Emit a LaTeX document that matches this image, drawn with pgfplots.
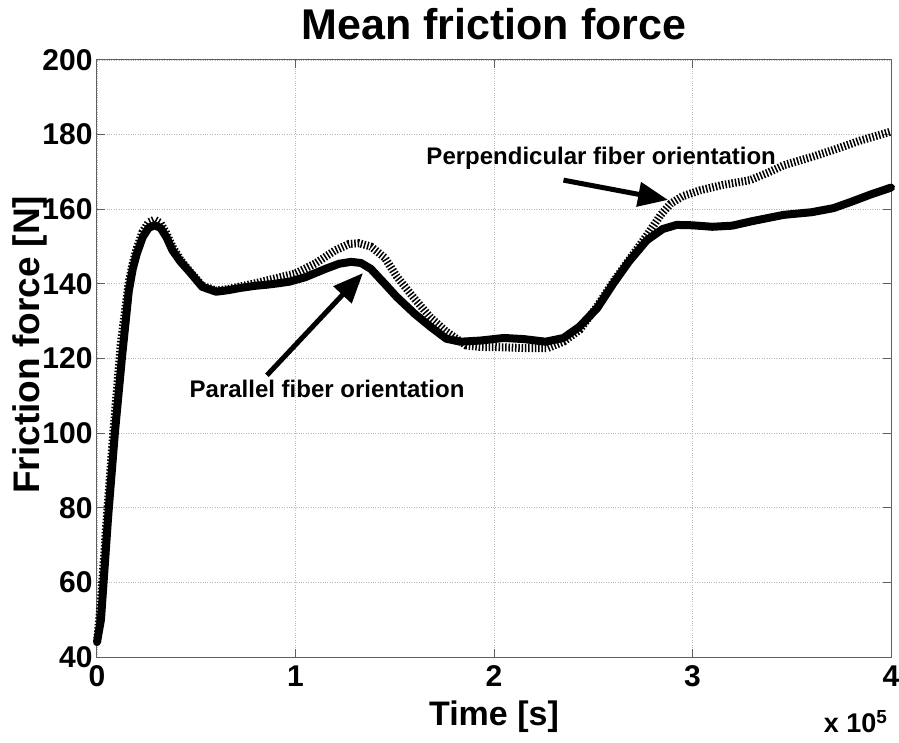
\documentclass[border=0pt]{standalone}
\usepackage{fontspec}
\setmainfont{Liberation Sans}
\usepackage{pgfplots}
\pgfplotsset{compat=1.18}
\usetikzlibrary{arrows.meta}
\pgfplotstableread{
x y
0 44
0.02 50
0.056 77.5
0.09 100
0.126 120.4
0.16 138
0.18 144
0.2 148
0.23 152.5
0.26 155
0.29 155.7
0.32 155
0.35 152.5
0.38 149
0.42 146
0.47 143
0.53 139.2
0.6 137.9
0.66 138.3
0.72 138.9
0.8 139.5
0.86 139.8
0.92 140.2
0.97 140.6
1.05 141.8
1.15 144
1.22 145.4
1.28 145.9
1.33 145.6
1.38 144
1.45 140
1.51 136.5
1.6 132
1.68 128.5
1.76 125.3
1.83 124.5
1.93 124.8
2.05 125.5
2.15 125.2
2.26 124.5
2.35 125.5
2.43 128.5
2.52 133.5
2.6 140
2.68 146
2.77 151.7
2.85 154.7
2.92 155.8
3.0 155.7
3.1 155.3
3.2 155.6
3.3 156.8
3.46 158.5
3.6 159.2
3.71 160.3
3.8 162
3.9 164
4.0 165.8
}\parallel
\pgfplotstableread{
x y
0 44
0.02 55
0.05 78
0.085 102
0.12 124
0.16 140.5
0.18 145.5
0.2 149.5
0.23 154
0.26 156.5
0.29 157.2
0.32 156.3
0.35 153.5
0.38 150
0.42 146.5
0.47 143.2
0.53 139.5
0.6 138.2
0.66 138.6
0.72 139.3
0.8 140.2
0.9 141.5
1.0 142.8
1.1 145.5
1.2 149
1.27 150.7
1.32 150.9
1.38 150
1.45 147
1.51 142
1.6 136
1.68 131
1.76 127.2
1.86 123.5
1.93 123.1
2.05 123
2.15 122.8
2.27 122.8
2.35 124.5
2.43 127.6
2.52 134
2.6 140.5
2.68 146.4
2.77 153
2.84 158.5
2.89 161.5
2.95 163.5
3.04 165.1
3.15 166.5
3.29 167.8
3.38 169.8
3.46 171.8
3.6 174
3.71 175.9
3.85 178.5
4.0 180.8
}\perpendicular
\begin{document}
\begin{tikzpicture}
\path[use as bounding box] (-97pt,-85pt) rectangle (802pt,657pt);
\begin{axis}[
  at={(0pt,0pt)}, anchor=south west,
  scale only axis, width=794pt, height=597pt,
  xmin=0, xmax=4, ymin=40, ymax=200,
  xtick={0,1,2,3,4}, ytick={40,60,...,200},
  grid=major,
  major grid style={gray!55, dotted, line width=0.9pt},
  axis line style={gray!75!black, line width=1pt},
  tick style={gray!75!black, line width=1pt},
  major tick length=8pt,
  tick align=inside,
  /pgf/number format/assume math mode=true,
  ticklabel style={font=\bfseries\fontsize{30}{30}\selectfont},
  xticklabel style={yshift=-5pt},
  yticklabel style={xshift=-1pt},
  title={Mean friction force},
  title style={font=\bfseries\fontsize{43}{43}\selectfont, at={(axis description cs:0.5,1.025)}, anchor=base},
  xlabel={Time [s]},
  xlabel style={font=\bfseries\fontsize{34}{34}\selectfont, at={(axis description cs:0.5,-0.114)}, anchor=base},
  ylabel={Friction force [N]},
  ylabel style={font=\bfseries\fontsize{37}{37}\selectfont, at={(axis description cs:-0.072,0.523)}, anchor=base},
  clip=false,
]
\addplot[black, line width=8pt, dash pattern=on 1.5pt off 1.8pt] table[x=x,y=y]{\perpendicular};
\addplot[black, line width=8pt, line join=round, line cap=round] table[x=x,y=y]{\parallel};
\draw[black, line width=5pt, -{Triangle[length=30pt,width=24pt]}] (axis cs:0.856,115.5) -- (axis cs:1.34,142.9);
\draw[black, line width=5pt, -{Triangle[length=30pt,width=24pt]}] (axis cs:2.35,167.8) -- (axis cs:2.877,162.5);
\node[font=\bfseries\fontsize{24}{24}\selectfont] at (axis cs:1.159,111.8) {Parallel fiber orientation};
\node[font=\bfseries\fontsize{24}{24}\selectfont] at (axis cs:2.54,173.7) {Perpendicular fiber orientation};
\node[font=\bfseries\fontsize{27}{27}\selectfont, anchor=base east] at (axis description cs:1,-0.127) {x 10\textsuperscript{5}};
\end{axis}
\end{tikzpicture}
\end{document}
